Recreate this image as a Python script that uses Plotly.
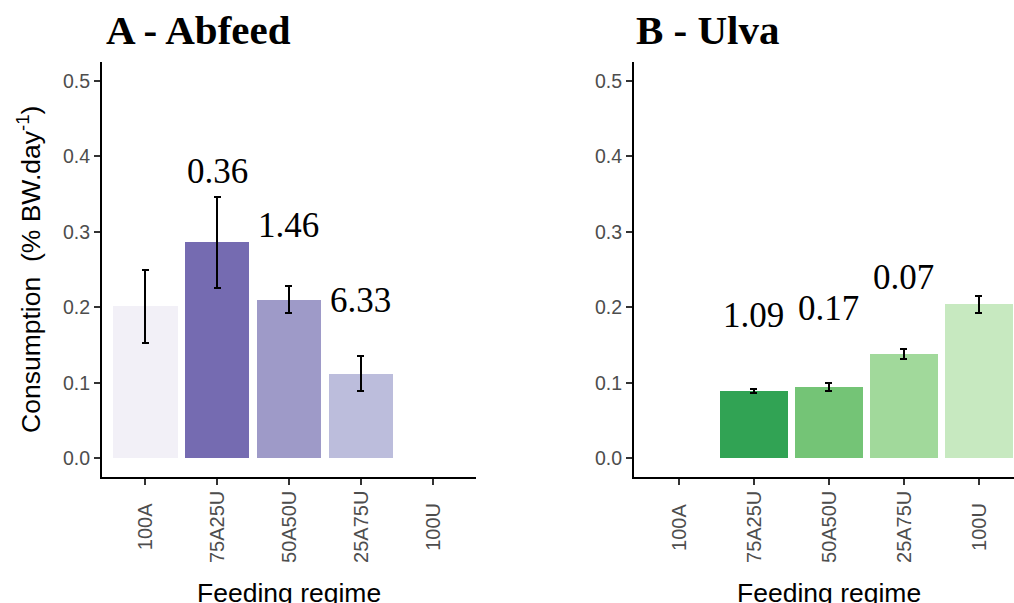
import plotly.graph_objects as go

# ---------------- data ----------------
categories = ["100A", "75A25U", "50A50U", "25A75U", "100U"]

abfeed_regimes = ["100A", "75A25U", "50A50U", "25A75U"]
abfeed_mean = [0.201, 0.286, 0.210, 0.112]
abfeed_err = [0.048, 0.060, 0.018, 0.023]
abfeed_colors = ["#f2f0f7", "#756bb1", "#9e9ac8", "#bcbddc"]
abfeed_labels = ["0.36", "1.46", "6.33"]
abfeed_label_regimes = ["75A25U", "50A50U", "25A75U"]
abfeed_label_y = [0.380, 0.309, 0.209]

ulva_regimes = ["75A25U", "50A50U", "25A75U", "100U"]
ulva_mean = [0.089, 0.094, 0.138, 0.204]
ulva_err = [0.003, 0.0055, 0.006, 0.0115]
ulva_colors = ["#31a354", "#74c476", "#a1d99b", "#c7e9c0"]
ulva_labels = ["1.09", "0.17", "0.07"]
ulva_label_regimes = ["75A25U", "50A50U", "25A75U"]
ulva_label_y = [0.189, 0.199, 0.240]

y_ticks = [0.0, 0.1, 0.2, 0.3, 0.4, 0.5]

SANS = "Liberation Sans, Arial, sans-serif"
SERIF = "Liberation Serif, Times New Roman, serif"

fig = go.Figure()

fig.add_trace(go.Bar(
    x=abfeed_regimes, y=abfeed_mean, width=0.9,
    marker=dict(color=abfeed_colors, line=dict(width=0)),
    error_y=dict(type="data", array=abfeed_err, color="black", thickness=2, width=3.5),
    xaxis="x", yaxis="y", showlegend=False,
))
fig.add_trace(go.Bar(
    x=ulva_regimes, y=ulva_mean, width=0.9,
    marker=dict(color=ulva_colors, line=dict(width=0)),
    error_y=dict(type="data", array=ulva_err, color="black", thickness=2, width=3.5),
    xaxis="x2", yaxis="y2", showlegend=False,
))

xcommon = dict(
    type="category", categoryorder="array", categoryarray=categories,
    showline=True, linecolor="black", linewidth=2,
    ticks="outside", ticklen=6, tickwidth=1.5, tickcolor="#333333",
    showticklabels=False, showgrid=False, zeroline=False,
)
ycommon = dict(
    range=[-0.025, 0.525], tickvals=y_ticks, tickformat=".1f",
    showline=True, linecolor="black", linewidth=2,
    ticks="outside", ticklen=6, tickwidth=1.5, tickcolor="#333333",
    tickfont=dict(family=SANS, size=19.5, color="#4d4d4d"),
    showgrid=False, zeroline=False, domain=[0.209, 0.897],
)

fig.update_layout(
    width=1014, height=603,
    margin=dict(l=0, r=0, t=0, b=0),
    paper_bgcolor="white", plot_bgcolor="white",
    bargap=0,
    xaxis=dict(domain=[0.1006, 0.4694], range=[-0.6, 4.6], anchor="y", **xcommon),
    xaxis2=dict(domain=[0.6252, 1.0], range=[-0.6, 4.467], anchor="y2", **xcommon),
    yaxis=dict(anchor="x", **ycommon),
    yaxis2=dict(anchor="x2", **ycommon),
)

ann = []
# x tick labels (centred, rotated)
for xr in ["x", "x2"]:
    for c in categories:
        ann.append(dict(text=c, x=c, xref=xr, y=1 - 527 / 603, yref="paper",
                        textangle=-90, xanchor="center", yanchor="middle",
                        showarrow=False, font=dict(family=SANS, size=20, color="#4d4d4d")))
    ann.append(dict(text="Feeding regime", x=categories[2], xref=xr, y=0.016, yref="paper",
                    xanchor="center", yanchor="middle", showarrow=False,
                    font=dict(family=SANS, size=26.5, color="black")))

ann.append(dict(text="Consumption  (% BW.day<sup>-1</sup>)", x=0.028, xref="paper",
                y=0.5, yref="y domain", textangle=-90, xanchor="center", yanchor="middle",
                showarrow=False, font=dict(family=SANS, size=26.5, color="black")))

ann.append(dict(text="<b>A - Abfeed</b>", x=0.1026, xref="paper", y=0.951, yref="paper",
                xanchor="left", yanchor="middle", showarrow=False,
                font=dict(family=SERIF, size=41, color="black")))
ann.append(dict(text="<b>B - Ulva</b>", x=0.6252, xref="paper", y=0.951, yref="paper",
                xanchor="left", yanchor="middle", showarrow=False,
                font=dict(family=SERIF, size=41, color="black")))

for t, r, yv in zip(abfeed_labels, abfeed_label_regimes, abfeed_label_y):
    ann.append(dict(text=t, x=r, xref="x", y=yv, yref="y", xanchor="center", yanchor="middle",
                    showarrow=False, font=dict(family=SERIF, size=35, color="black")))
for t, r, yv in zip(ulva_labels, ulva_label_regimes, ulva_label_y):
    ann.append(dict(text=t, x=r, xref="x2", y=yv, yref="y2", xanchor="center", yanchor="middle",
                    showarrow=False, font=dict(family=SERIF, size=35, color="black")))

fig.update_layout(annotations=ann)

fig.write_html("out.html")
